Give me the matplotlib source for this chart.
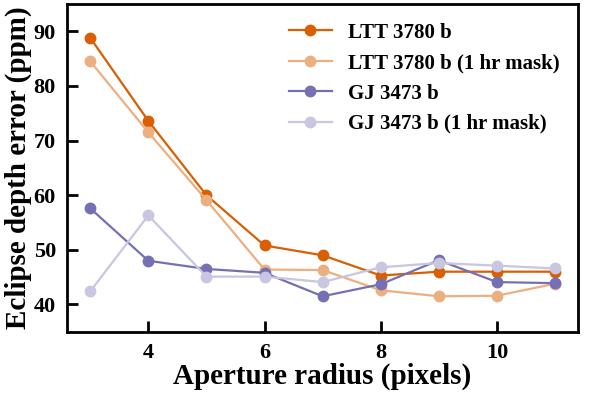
import matplotlib.pyplot as plt
import numpy as np

plt.rcParams['font.family'] = ['Liberation Serif', 'DejaVu Serif']
plt.rcParams['font.weight'] = 'bold'

radius = np.arange(3, 12)
ltt = [88.8, 73.6, 60.0, 50.8, 49.0, 45.3, 46.0, 46.0, 46.0]
ltt_mask = [84.5, 71.5, 59.1, 46.4, 46.3, 42.6, 41.5, 41.6, 43.8]
gj = [57.6, 48.0, 46.5, 45.8, 41.5, 43.7, 48.1, 44.1, 43.9]
gj_mask = [42.4, 56.3, 45.1, 45.1, 44.1, 46.8, 47.6, 47.1, 46.6]

# Dark2 orange / purple and their washed-out versions
orange = '#d95f02'
orange_light = '#ecaf80'
purple = '#7570b3'
purple_light = '#c8c6e1'

fig, ax = plt.subplots(figsize=(5.98, 3.95), dpi=100)

ax.plot(radius, ltt, 'o-', color=orange, lw=1.6, ms=7.5, label='LTT 3780 b')
ax.plot(radius, ltt_mask, 'o-', color=orange_light, lw=1.6, ms=7.5, label='LTT 3780 b (1 hr mask)')
ax.plot(radius, gj, 'o-', color=purple, lw=1.6, ms=7.5, label='GJ 3473 b')
ax.plot(radius, gj_mask, 'o-', color=purple_light, lw=1.6, ms=7.5, label='GJ 3473 b (1 hr mask)')

ax.set_ylim(35, 95)
ax.set_xticks([4, 6, 8, 10])
ax.set_yticks([40, 50, 60, 70, 80, 90])
ax.tick_params(direction='in', length=8, width=2, labelsize=16, pad=8)
for s in ax.spines.values():
    s.set_linewidth(2)

ax.set_xlabel('Aperture radius (pixels)', fontsize=21, fontweight='bold', labelpad=0)
ax.set_ylabel('Eclipse depth error (ppm)', fontsize=21, fontweight='bold', labelpad=1)
ax.legend(frameon=False, fontsize=15, loc='upper right', handlelength=2.1,
          handletextpad=0.75, labelspacing=0.5, borderaxespad=0.5)

fig.subplots_adjust(left=0.112, right=0.967, top=0.99, bottom=0.16)
fig.savefig('out.png')
